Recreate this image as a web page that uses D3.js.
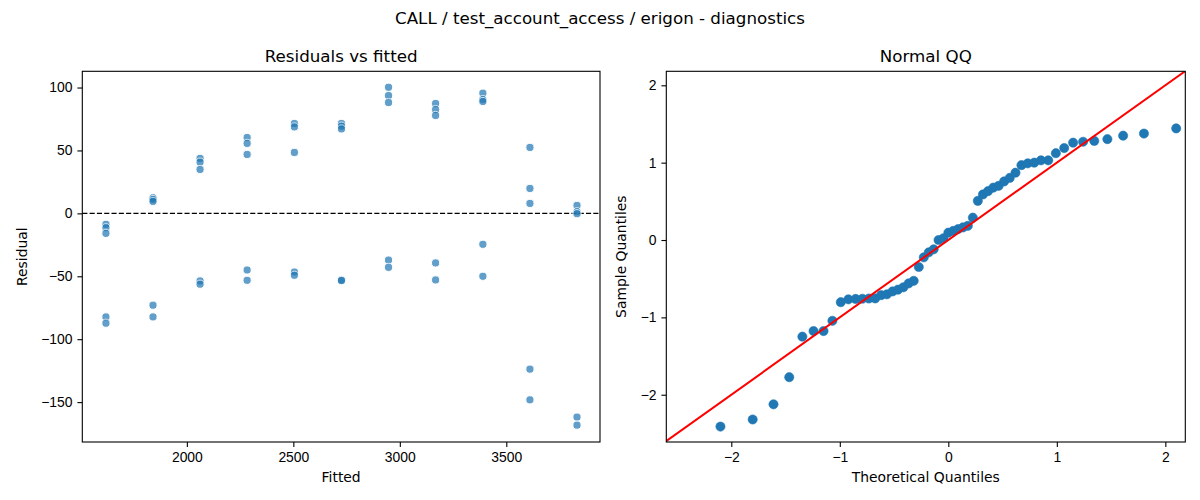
<!DOCTYPE html>
<html>
<head>
<meta charset="utf-8">
<script src="https://cdn.jsdelivr.net/npm/d3@7"></script>
<style>
  html, body { margin: 0; padding: 0; background: #fff; }
  svg { display: block; font-family: "DejaVu Sans", sans-serif; }
  .axis path, .axis line { stroke: #000; stroke-width: 1.1; }
  .axis text { font-size: 13.9px; fill: #000; }
  .lbl { font-size: 13.9px; fill: #000; }
  .ttl { font-size: 16.7px; fill: #000; }
</style>
</head>
<body>
<svg id="chart" width="1200" height="500"></svg>
<script>
// ─── Data ───────────────────────────────────────────────────────────────────
const SUPTITLE = 'CALL / test_account_access / erigon - diagnostics';

// fitted value of each group (5 observations per group)
const fittedGroups = [1620, 1841, 2062, 2283, 2505, 2726, 2947, 3168, 3390, 3611, 3832];
// residuals per group, same order as fittedGroups
const residualGroups = [
  [-8.7, -11.4, -15.9, -82.3, -87.3],
  [12.4, 11.0, 9.5, -73.0, -82.3],
  [43.7, 40.7, 34.9, -53.7, -56.3],
  [60.3, 55.6, 46.8, -45.0, -53.2],
  [71.4, 68.7, 48.4, -46.6, -49.2],
  [71.4, 69.3, 67.1, -53.0, -53.4],
  [100.2, 93.6, 88.1, -37.1, -42.9],
  [87.3, 82.5, 77.8, -39.4, -52.9],
  [95.5, 90.5, 88.9, -24.6, -50.0],
  [52.4, 19.8, 7.9, -123.8, -148.2],
  [6.3, 1.3, -0.3, -161.9, -168.3]
];
const residTicks = [-150, -100, -50, 0, 50, 100];
const fittedTicks = [2000, 2500, 3000, 3500];

// Normal QQ: theoretical vs sample quantiles (sorted)
const qqTheoretical = [
  -2.100, -1.803, -1.611, -1.466, -1.345, -1.242, -1.150, -1.068, -0.991, -0.921,
  -0.854, -0.792, -0.732, -0.674, -0.619, -0.566, -0.514, -0.464, -0.414, -0.366,
  -0.319, -0.272, -0.226, -0.180, -0.135, -0.090, -0.045, 0.000, 0.045, 0.090,
  0.135, 0.180, 0.226, 0.272, 0.319, 0.366, 0.414, 0.464, 0.514, 0.566,
  0.619, 0.674, 0.732, 0.792, 0.854, 0.921, 0.991, 1.068, 1.150, 1.242,
  1.345, 1.466, 1.611, 1.803, 2.100
];
const qqSample = [
  -2.412, -2.320, -2.124, -1.773, -1.249, -1.177, -1.177, -1.044, -0.804, -0.767,
  -0.762, -0.759, -0.756, -0.755, -0.713, -0.702, -0.665, -0.642, -0.611, -0.561,
  -0.528, -0.349, -0.224, -0.159, -0.120, 0.000, 0.023, 0.095, 0.118, 0.141,
  0.163, 0.183, 0.289, 0.506, 0.589, 0.632, 0.677, 0.700, 0.757, 0.803,
  0.870, 0.968, 0.991, 1.000, 1.030, 1.030, 1.122, 1.189, 1.258, 1.270,
  1.281, 1.304, 1.349, 1.376, 1.443
];
const qqTicks = [-2, -1, 0, 1, 2];

// ─── Layout ─────────────────────────────────────────────────────────────────
const svg = d3.select('#chart');
const TICK = 4.9, PAD = 4.9;
const fmt = d3.format('d');
const panelL = { x0: 82.3, x1: 600, y0: 71.3, y1: 442 };
const panelR = { x0: 666.3, x1: 1185.3, y0: 71.3, y1: 442 };

svg.append('text').attr('class', 'ttl')
  .attr('x', 600).attr('y', 18).attr('dy', '0.35em')
  .attr('text-anchor', 'middle').text(SUPTITLE);

function drawFrame(p, title, xLabel, yLabel, yLabelX) {
  svg.append('text').attr('class', 'ttl')
    .attr('x', (p.x0 + p.x1) / 2).attr('y', 56).attr('dy', '0.35em')
    .attr('text-anchor', 'middle').text(title);
  svg.append('text').attr('class', 'lbl')
    .attr('x', (p.x0 + p.x1) / 2).attr('y', 477).attr('dy', '0.35em')
    .attr('text-anchor', 'middle').text(xLabel);
  svg.append('text').attr('class', 'lbl')
    .attr('transform', `translate(${yLabelX},${(p.y0 + p.y1) / 2}) rotate(-90)`)
    .attr('dy', '0.35em').attr('text-anchor', 'middle').text(yLabel);
}

function drawAxes(p, x, y, xt, yt) {
  svg.append('g').attr('class', 'axis')
    .attr('transform', `translate(0,${p.y1})`)
    .call(d3.axisBottom(x).tickValues(xt).tickFormat(fmt)
      .tickSize(TICK).tickPadding(PAD).tickSizeOuter(0))
    .call(g => g.select('.domain').remove());
  svg.append('g').attr('class', 'axis')
    .attr('transform', `translate(${p.x0},0)`)
    .call(d3.axisLeft(y).tickValues(yt).tickFormat(fmt)
      .tickSize(TICK).tickPadding(PAD).tickSizeOuter(0))
    .call(g => g.select('.domain').remove());
  svg.append('rect')
    .attr('x', p.x0).attr('y', p.y0)
    .attr('width', p.x1 - p.x0).attr('height', p.y1 - p.y0)
    .attr('fill', 'none').attr('stroke', '#000').attr('stroke-width', 1.1);
}

function clipFor(id, p) {
  svg.append('clipPath').attr('id', id).append('rect')
    .attr('x', p.x0).attr('y', p.y0)
    .attr('width', p.x1 - p.x0).attr('height', p.y1 - p.y0);
  return `url(#${id})`;
}

// ─── Residuals vs fitted ────────────────────────────────────────────────────
const xL = d3.scaleLinear().domain([1509, 3940]).range([panelL.x0, panelL.x1]);
const yL = d3.scaleLinear().domain([-181.7, 112.9]).range([panelL.y1, panelL.y0]);
const residPoints = fittedGroups.flatMap((f, i) => residualGroups[i].map(r => ({ f, r })));

const gL = svg.append('g').attr('clip-path', clipFor('clipL', panelL));
gL.append('line')
  .attr('x1', panelL.x0).attr('x2', panelL.x1)
  .attr('y1', yL(0)).attr('y2', yL(0))
  .attr('stroke', '#000').attr('stroke-width', 1.33)
  .attr('stroke-dasharray', '5.1,2.2');
gL.selectAll('circle').data(residPoints).join('circle')
  .attr('cx', d => xL(d.f))
  .attr('cy', d => yL(d.r))
  .attr('r', 4.1)
  .attr('fill', '#1f77b4')
  .attr('stroke', '#fff')
  .attr('stroke-width', 1)
  .attr('opacity', 0.7);

drawAxes(panelL, xL, yL, fittedTicks, residTicks);
drawFrame(panelL, 'Residuals vs fitted', 'Fitted', 'Residual', 22);

// ─── Normal QQ ──────────────────────────────────────────────────────────────
const xR = d3.scaleLinear().domain([-2.599, 2.184]).range([panelR.x0, panelR.x1]);
const yR = d3.scaleLinear().domain([-2.611, 2.181]).range([panelR.y1, panelR.y0]);
const qqPoints = qqTheoretical.map((t, i) => ({ t, s: qqSample[i] }));

const gR = svg.append('g').attr('clip-path', clipFor('clipR', panelR));
gR.selectAll('circle').data(qqPoints).join('circle')
  .attr('cx', d => xR(d.t))
  .attr('cy', d => yR(d.s))
  .attr('r', 4.6)
  .attr('fill', '#1f77b4')
  .attr('stroke', '#1f77b4')
  .attr('stroke-width', 0.6);
// 45° reference line across the axes
const lineExtent = [-3, 3];
gR.append('path')
  .datum(lineExtent)
  .attr('d', d3.line().x(v => xR(v)).y(v => yR(v)))
  .attr('stroke', 'red').attr('stroke-width', 2).attr('fill', 'none');

drawAxes(panelR, xR, yR, qqTicks, qqTicks);
drawFrame(panelR, 'Normal QQ', 'Theoretical Quantiles', 'Sample Quantiles', 621);
</script>
</body>
</html>
